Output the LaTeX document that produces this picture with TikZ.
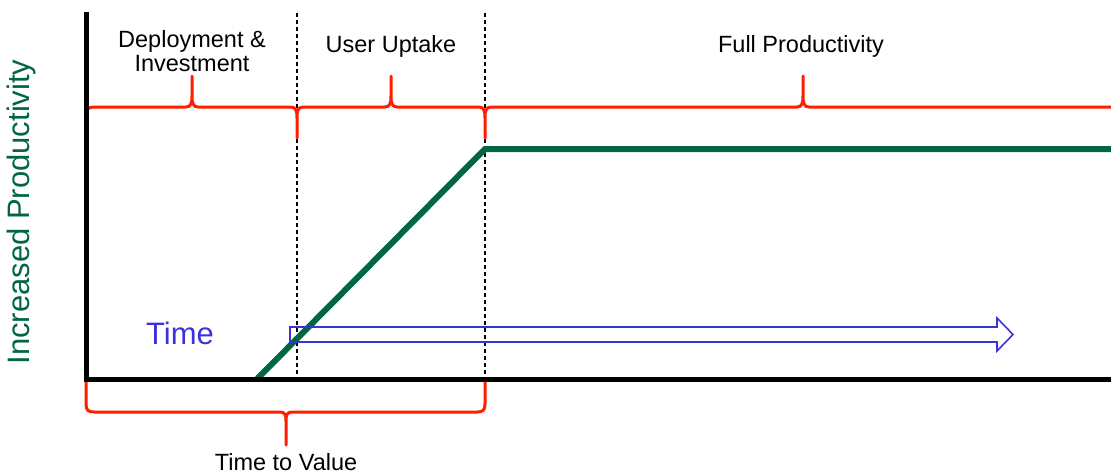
\documentclass[tikz,border=0pt]{standalone}
\usepackage{fontspec}
\setmainfont{Liberation Sans}
\definecolor{prodgreen}{RGB}{0,102,68}
\definecolor{bracered}{RGB}{255,30,0}
\definecolor{timeblue}{RGB}{60,50,220}
\begin{document}
\begin{tikzpicture}[x=1pt,y=-1pt,
  axis/.style={line width=5pt,black},
  divider/.style={line width=1.4pt,black,dash pattern=on 4pt off 3pt},
  growth/.style={line width=6pt,prodgreen},
  brace/.style={line width=3pt,bracered,line join=round},
  phase/.style={font=\fontsize{23.5}{25}\selectfont,align=center,text=black,inner sep=0pt},
  timearrow/.style={line width=1.6pt,timeblue,line join=miter}]
\useasboundingbox (0,0) rectangle (1111,475);

% key points of the chart
\coordinate (origin) at (86,379);
\coordinate (ytop) at (86,12);
\coordinate (xend) at (1111,379);
\coordinate (start) at (256,380);
\coordinate (plateau) at (485,149);
\coordinate (right) at (1111,149);

% phase dividers
\draw[divider] (297,13) -- (297,379);
\draw[divider] (485,13) -- (485,379);

% productivity curve
\draw[growth] (start) -- (plateau) -- (right);

% brace over the three phases
\draw[brace] (86,138) -- (86,116) .. controls (86,109) and (88,107) .. (95,107)
  -- (186,107) .. controls (191,107) and (192,103) .. (192,96) -- (192,76)
  -- (192,96) .. controls (192,103) and (193,107) .. (198,107)
  -- (291,107) .. controls (296,107) and (297,111) .. (297,118) -- (297,138)
  -- (297,118) .. controls (297,111) and (298,107) .. (303,107)
  -- (385,107) .. controls (390,107) and (391,103) .. (391,96) -- (391,76)
  -- (391,96) .. controls (391,103) and (392,107) .. (397,107)
  -- (479,107) .. controls (484,107) and (485,111) .. (485,118) -- (485,138)
  -- (485,118) .. controls (485,111) and (486,107) .. (491,107)
  -- (797,107) .. controls (802,107) and (803,103) .. (803,96) -- (803,76)
  -- (803,96) .. controls (803,103) and (804,107) .. (809,107)
  -- (1111,107);

% brace under the time to value
\draw[brace] (86,381) -- (86,404) .. controls (86,410) and (88,412) .. (94,412)
  -- (280,412) .. controls (285,412) and (286,415) .. (286,421) -- (286,445)
  -- (286,421) .. controls (286,415) and (287,412) .. (292,412)
  -- (477,412) .. controls (483,412) and (485,410) .. (485,404) -- (485,381);

% axes
\draw[axis] (ytop) -- (origin) -- (xend);

% time arrow
\draw[timearrow] (290,327) -- (997,327) -- (997,318) -- (1013,334.5)
  -- (997,351) -- (997,342) -- (290,342) -- cycle;

% labels
\node[phase] (deploy) at (192,51) {Deployment \&\\[-1pt]Investment};
\node[phase] (uptake) at (391,46) {User Uptake};
\node[phase] (full) at (801,46) {Full Productivity};
\node[phase] (ttv) at (286,462) {Time to Value};
\node[font=\fontsize{31}{33}\selectfont,text=timeblue,inner sep=0pt] (time) at (180,333) {Time};
\node[font=\fontsize{31}{33}\selectfont,text=prodgreen,rotate=90,inner sep=0pt] (ylabel) at (21,212) {Increased Productivity};
\end{tikzpicture}
\end{document}
